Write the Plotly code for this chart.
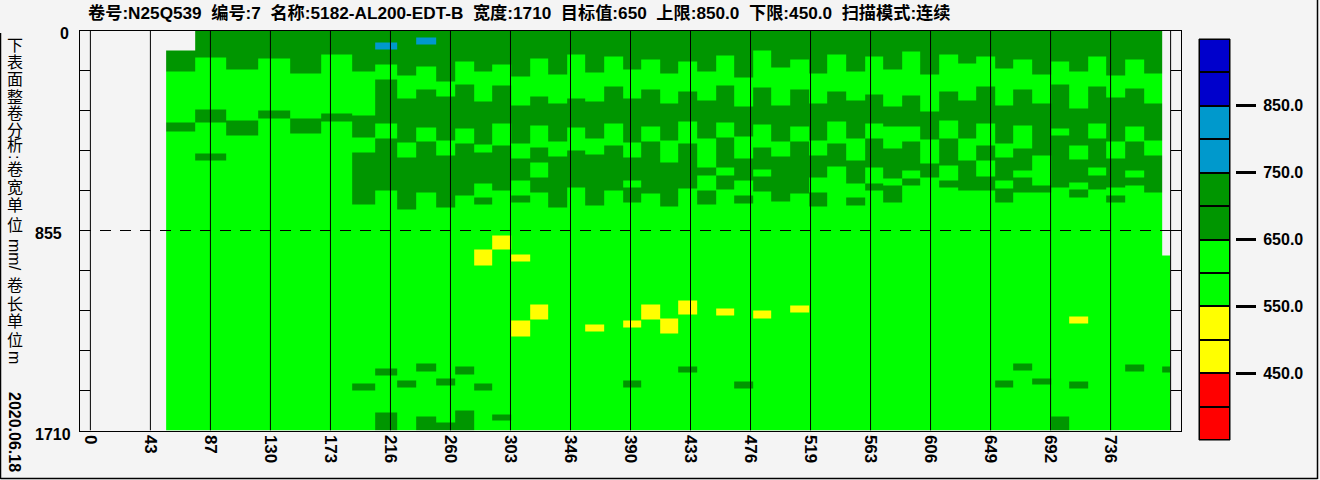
import plotly.graph_objects as go

# ---------------- data ----------------
title_parts = ["卷号:N25Q539", "编号:7", "名称:5182-AL200-EDT-B", "宽度:1710",
               "目标值:650", "上限:850.0", "下限:450.0", "扫描模式:连续"]

# roll length axis (m)
x_tick_vals = [i * 780 / 18 for i in range(18)]
x_tick_text = ["0", "43", "87", "130", "173", "216", "260", "303", "346", "390",
               "433", "476", "519", "563", "606", "649", "692", "736"]
# roll width axis (mm)
y_tick_vals = [i * 171 for i in range(11)]

# scan column edges along the length (m)
length_edges_m = [54.7, 75.6, 98.0, 121.1, 144.2, 166.6, 189.0, 205.6, 221.5, 235.2, 249.7,
                  263.4, 276.8, 290.3, 303.7, 317.2, 330.6, 344.0, 357.5, 370.9, 384.4,
                  397.8, 411.2, 424.7, 438.1, 451.6, 465.0, 478.4, 491.9, 505.3, 518.8,
                  532.2, 545.6, 559.1, 572.5, 586.0, 599.4, 612.8, 626.3, 639.7, 653.2,
                  666.6, 680.0, 693.5, 706.9, 720.4, 733.8, 747.2, 760.7, 774.1, 780.0]

# first measured width position of each column (mm)
width_start_mm = [85] + [0] * 48 + [962]

# width positions (mm) where each column toggles between the 650-750 band
# (from the top) and the 550-650 band
band_breaks_mm = [
    [174, 393, 432], [115, 338, 393, 526, 556], [165, 385, 449], [120, 342, 376],
    [184, 376, 440], [103, 355, 389], [175, 363, 457, 522, 744], [145, 209, 398, 462, 684],
    [192, 291, 479, 543, 765], [154, 252, 415, 475, 693], [218, 282, 470, 534, 757],
    [133, 231, 419, 483, 705], [175, 303, 487, 522, 654, 714, 744], [145, 235, 398, 492, 684],
    [197, 321, 483, 547, 641, 705, 735], [120, 282, 406, 500, 564, 628, 693],
    [188, 312, 475, 539, 757], [103, 291, 415, 513, 671], [180, 303, 462, 530, 748],
    [111, 239, 398, 492, 684], [167, 291, 479, 543, 641, 671, 735], [124, 252, 410, 475, 697],
    [184, 312, 470, 564, 752], [133, 261, 389, 483, 675], [175, 299, 462, 586, 620, 684, 744],
    [107, 235, 393, 457, 586, 620, 680], [201, 325, 453, 547, 641, 705, 740],
    [85, 244, 402, 500, 594, 624, 688], [158, 321, 475, 539, 731], [124, 252, 410, 475, 697],
    [184, 312, 470, 534, 628, 693, 752], [103, 261, 389, 483, 581],
    [175, 299, 462, 556, 654, 714, 748], [111, 274, 398, 462, 586, 654, 684],
    [167, 325, 410, 504, 633, 663, 735], [90, 278, 410, 475, 599, 633, 663],
    [188, 346, 466, 569, 628], [103, 261, 385, 462, 577, 641, 671], [141, 299, 462, 556, 684],
    [111, 239, 398, 492, 556, 624, 684], [162, 321, 483, 543, 641, 675, 735],
    [124, 252, 406, 504, 599, 628, 693], [188, 312, 534, 663, 693], [133, 231, 419, 449, 671],
    [175, 333, 492, 551, 650, 680, 714], [111, 239, 398, 462, 586, 620, 680],
    [192, 286, 475, 547, 671, 705, 735], [124, 248, 410, 475, 599, 628, 663],
    [184, 312, 470, 534, 693], [962],
]

DARK, LIGHT, YELLOW, CYAN = 700, 600, 520, 800
# isolated spots: (column, width from mm, width to mm, value)
spots = [
    (7, 51, 81, CYAN), (9, 30, 60, CYAN),
    (12, 936, 1005, YELLOW), (13, 876, 936, YELLOW), (14, 958, 988, YELLOW),
    (14, 1240, 1308, YELLOW), (15, 1171, 1235, YELLOW), (18, 1257, 1287, YELLOW),
    (20, 1240, 1270, YELLOW), (21, 1171, 1235, YELLOW), (22, 1231, 1295, YELLOW),
    (23, 1154, 1214, YELLOW), (25, 1188, 1218, YELLOW), (27, 1197, 1231, YELLOW),
    (29, 1176, 1206, YELLOW), (44, 1223, 1253, YELLOW),
    (7, 1445, 1475, DARK), (6, 1509, 1539, DARK), (9, 1424, 1458, DARK), (8, 1496, 1526, DARK),
    (11, 1436, 1471, DARK), (10, 1488, 1518, DARK), (12, 1509, 1539, DARK),
    (20, 1496, 1526, DARK), (7, 1633, 1710, DARK), (9, 1650, 1710, DARK),
    (10, 1676, 1710, DARK), (11, 1624, 1710, DARK), (13, 1642, 1667, DARK),
    (23, 1436, 1462, DARK), (26, 1500, 1530, DARK), (41, 1424, 1454, DARK),
    (40, 1496, 1526, DARK), (42, 1488, 1513, DARK), (44, 1500, 1530, DARK),
    (47, 1428, 1458, DARK), (49, 1436, 1462, DARK), (43, 1650, 1710, DARK),
]

# colour bands of the scale
band_low = [350, 450, 550, 650, 750, 850]
band_colors = ["#ff0000", "#ffff00", "#00ff00", "#009600", "#0099cc", "#0000cc"]
legend_tick_vals = [450, 550, 650, 750, 850]

# ---------------- build grid ----------------
ncols = len(length_edges_m) - 1
edges = {0.0, 1710.0}
edges.update(width_start_mm)
for b in band_breaks_mm:
    edges.update(b)
for c, y0, y1, v in spots:
    edges.update([y0, y1])
y_edges = sorted(edges)

z = []
for i in range(len(y_edges) - 1):
    mid = (y_edges[i] + y_edges[i + 1]) / 2
    row = []
    for j in range(ncols):
        if mid < width_start_mm[j]:
            row.append(None)
            continue
        k = sum(1 for b in band_breaks_mm[j] if b < mid)
        row.append(DARK if k % 2 == 0 else LIGHT)
    z.append(row)
for c, y0, y1, v in spots:
    for i in range(len(y_edges) - 1):
        mid = (y_edges[i] + y_edges[i + 1]) / 2
        if y0 < mid < y1:
            z[i][c] = v

zmin, zmax = 350, 950
cs = []
for lo, col in zip(band_low, band_colors):
    cs.append([(lo - zmin) / (zmax - zmin), col])
    cs.append([(lo + 100 - zmin) / (zmax - zmin), col])

# ---------------- figure ----------------
W, H = 1320, 480
ML, MR, MT, MB = 80, 80, 29, 40
PW, PH = W - ML - MR, H - MT - MB


def px(xp):
    return (xp - ML) / PW


def py(yp):
    return (H - MB - yp) / PH


FONT = "Liberation Sans, Arial, Noto Sans CJK SC"

fig = go.Figure()
fig.add_trace(go.Heatmap(
    x=length_edges_m, y=y_edges, z=z, zmin=zmin, zmax=zmax, colorscale=cs,
    showscale=False, hoverinfo="skip", xaxis="x", yaxis="y"))

legend_edges = list(range(350, 951, 50))
legend_mid = [e + 25 for e in legend_edges[:-1]]
fig.add_trace(go.Heatmap(
    x=[0, 1], y=legend_edges, z=[[v] for v in legend_mid], zmin=zmin, zmax=zmax,
    colorscale=cs, showscale=False, xgap=2, ygap=2, hoverinfo="skip",
    xaxis="x2", yaxis="y2"))

shapes = []
for v in x_tick_vals + [780]:
    shapes.append(dict(type="line", xref="x", yref="y", x0=v, x1=v, y0=0, y1=1710,
                       line=dict(color="black", width=1), layer="above"))
shapes.append(dict(type="line", xref="x", yref="y", x0=-7.5, x1=787.5, y0=855, y1=855,
                   line=dict(color="black", width=1, dash="11px,9px"), layer="above"))
shapes.append(dict(type="rect", xref="x2 domain", yref="y2 domain", x0=0, x1=1, y0=0, y1=1,
                   fillcolor="black", line=dict(color="black", width=1), layer="below"))
# window border
for x0, y0, x1, y1 in [(0.5, 33, 0.5, 479), (0.5, 478.5, 1317.5, 478.5), (1317.5, 0, 1317.5, 479)]:
    shapes.append(dict(type="line", xref="paper", yref="paper", x0=px(x0), x1=px(x1),
                       y0=py(y0), y1=py(y1), line=dict(color="black", width=1.5)))

ann = []
title_text = "  ".join(title_parts)
ann.append(dict(text="<b>" + title_text + "</b>", xref="paper", yref="paper", x=px(86), y=py(13),
                xanchor="left", yanchor="middle", showarrow=False, font=dict(size=17.2)))
for t, xl, yc in [("0", 58, 34), ("855", 33, 234), ("1710", 33, 434)]:
    ann.append(dict(text="<b>" + t + "</b>", xref="paper", yref="paper", x=px(xl), y=py(yc),
                    xanchor="left", yanchor="middle", showarrow=False, font=dict(size=16)))
vlabel = [("下", 45.5, 0), ("表", 62.5, 0), ("面", 80, 0), ("整", 97, 0), ("卷", 114, 0),
          ("分", 130.5, 0), ("析", 145.5, 0), (":", 157, 90), ("卷", 169.5, 0), ("宽", 187.5, 0),
          ("单", 205.5, 0), ("位", 225, 0), ("mm/", 255, 90), ("卷", 285.5, 0), ("长", 304.5, 0),
          ("单", 321.5, 0), ("位", 340, 0), ("m", 357, 90), ("<b>2020.06.18</b>", 432, 90)]
for t, yc, ang in vlabel:
    ann.append(dict(text=t, xref="paper", yref="paper", x=px(15), y=py(yc),
                    xanchor="center", yanchor="middle", showarrow=False, textangle=ang,
                    font=dict(size=16)))

fig.update_layout(
    width=W, height=H, margin=dict(l=ML, r=MR, t=MT, b=MB),
    paper_bgcolor="#f4f4f4", plot_bgcolor="#f4f4f4",
    font=dict(family=FONT, color="black"),
    showlegend=False,
    xaxis=dict(domain=[0, px(1181)], range=[-7.5, 787.5], tickvals=x_tick_vals,
               ticktext=["<b>" + t + "</b>" for t in x_tick_text], tickangle=90,
               tickfont=dict(size=17), showgrid=False, zeroline=False, showline=True,
               mirror=True, linecolor="black", linewidth=1, ticks="", anchor="y"),
    yaxis=dict(domain=[py(430.5), py(30.5)], range=[1710, 0], tickvals=y_tick_vals,
               showticklabels=False, ticks="inside", ticklen=10, tickcolor="black",
               showgrid=False, zeroline=False, showline=True, mirror="ticks",
               linecolor="black", linewidth=1, anchor="x"),
    xaxis2=dict(domain=[px(1199), px(1230)], range=[0, 1], visible=False, anchor="y2"),
    yaxis2=dict(domain=[0, py(39)], range=[350, 950], anchor="free", position=px(1235),
                side="right", tickvals=legend_tick_vals,
                ticktext=["<b>%.1f</b>" % v for v in legend_tick_vals],
                ticks="outside", ticklen=20, tickwidth=3, tickcolor="black",
                tickfont=dict(size=16), showgrid=False, zeroline=False, showline=False,
                ticklabelstandoff=4),
    shapes=shapes, annotations=ann,
)

fig.write_html("out.html", config={"displayModeBar": False},
               post_script="document.body.style.margin='0';")
